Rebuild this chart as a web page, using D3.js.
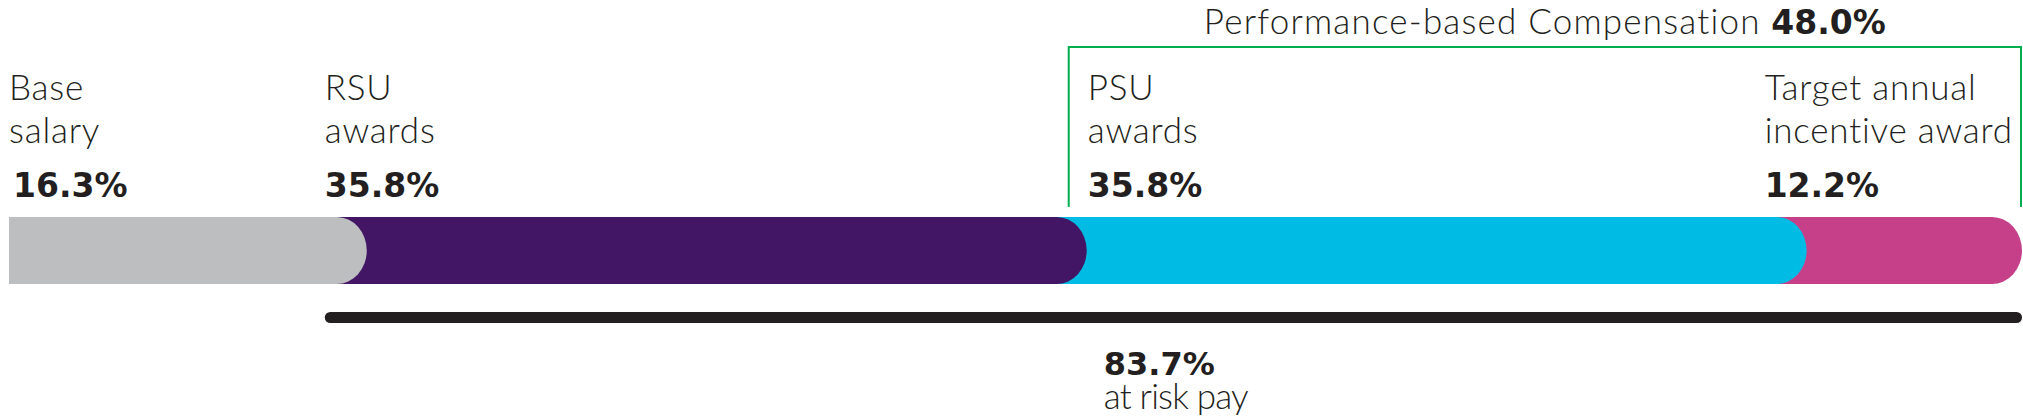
<!DOCTYPE html>
<html>
<head>
<meta charset="utf-8">
<script src="https://cdn.jsdelivr.net/npm/d3@7"></script>
<style>
  body { margin: 0; background: #fff; }
  text { fill: #231f20; }
  .light { font-family: Lato, "Open Sans", sans-serif; font-weight: 300; letter-spacing: 0.8px; }
  .bold { font-family: "DejaVu Sans", sans-serif; font-weight: 700; }
</style>
</head>
<body>
<div id="chart"></div>
<script>
// pay mix data
var categories = ["Base salary", "RSU awards", "PSU awards", "Target annual incentive award"];
var labelLines = [["Base", "salary"], ["RSU", "awards"], ["PSU", "awards"], ["Target annual", "incentive award"]];
var shares = [16.3, 35.8, 35.8, 12.2];
var performanceLabel = "Performance-based Compensation";
var performanceShare = 48.0;
var atRiskShare = 83.7;
var atRiskLabel = "at risk pay";

var colors = ["#bcbec0", "#431665", "#00bce4", "#c54089"];

var svgWidth = 2023;
var svgHeight = 420;

var svg = d3.select("#chart")
  .append("svg")
  .attr("width", svgWidth)
  .attr("height", svgHeight);

var total = d3.sum(shares);
var cum = [0];
shares.forEach(function(s, i) { cum.push(cum[i] + s); });

var x = d3.scaleLinear()
  .domain([0, total])
  .range([9, 2022]);

var barTop = 217, barH = 67, rx = 30;
var barBottom = barTop + barH;

// segments drawn back to front so each rounded end overlaps the next
var segs = shares.map(function(s, i) {
  return { i: i, start: cum[i], end: cum[i + 1] };
});

function segPath(d) {
  var a = d.i === 0 ? x(d.start) : x(d.start) - rx;
  var b = d.i === shares.length - 1 ? x(d.end) - rx : x(d.end);
  return "M" + a + "," + barTop + "H" + b +
    "A" + rx + "," + (barH / 2) + " 0 0 1 " + b + "," + barBottom +
    "H" + a + "Z";
}

svg.append("g")
  .selectAll("path")
  .data(segs.slice().reverse())
  .enter()
  .append("path")
  .attr("d", segPath)
  .attr("fill", d => colors[d.i]);

// labels above the bar
var labelDx = [0, -12, 31, -12];
var labels = svg.append("g")
  .selectAll("g")
  .data(segs)
  .enter()
  .append("g")
  .attr("transform", d => `translate(${x(d.start) + labelDx[d.i]},0)`);

labels.append("text")
  .attr("class", "light")
  .attr("y", 100)
  .attr("font-size", "35px")
  .text(d => labelLines[d.i][0]);

labels.append("text")
  .attr("class", "light")
  .attr("y", 143)
  .attr("font-size", "35px")
  .text(d => labelLines[d.i][1]);

labels.append("text")
  .attr("class", "bold")
  .attr("x", d => d.i === 0 ? 4 : 0)
  .attr("y", 197)
  .attr("font-size", "33px")
  .text(d => d3.format(".1f")(shares[d.i]) + "%");

// performance-based bracket
var bx0 = x(cum[2]) + 12, bx1 = x(total) - 1;
svg.append("path")
  .attr("d", `M${bx0},207V47H${bx1}V207`)
  .attr("fill", "none")
  .attr("stroke", "#00ae4f")
  .attr("stroke-width", 2);

var title = svg.append("text")
  .attr("x", (bx0 + bx1) / 2)
  .attr("y", 34)
  .attr("text-anchor", "middle");
title.append("tspan").attr("class", "light").attr("font-size", "35px")
  .style("letter-spacing", "1.2px").text(performanceLabel + " ");
title.append("tspan").attr("class", "bold").attr("font-size", "33px")
  .text(d3.format(".1f")(performanceShare) + "%");

// at-risk line
var lx0 = x(cum[1]) - 12, lx1 = x(total);
svg.append("line")
  .attr("x1", lx0 + 5.5)
  .attr("x2", lx1 - 5.5)
  .attr("y1", 317.5)
  .attr("y2", 317.5)
  .attr("stroke", "#231f20")
  .attr("stroke-width", 11)
  .attr("stroke-linecap", "round");

var risk = svg.append("text")
  .attr("x", x(cum[2]) + 47)
  .attr("y", 375);
risk.append("tspan")
  .attr("class", "bold")
  .attr("font-size", "32px")
  .text(d3.format(".1f")(atRiskShare) + "%");
risk.append("tspan")
  .attr("class", "light")
  .attr("x", x(cum[2]) + 47)
  .attr("dy", 34)
  .attr("font-size", "35px")
  .style("letter-spacing", "-0.8px")
  .text(atRiskLabel);
</script>
</body>
</html>
